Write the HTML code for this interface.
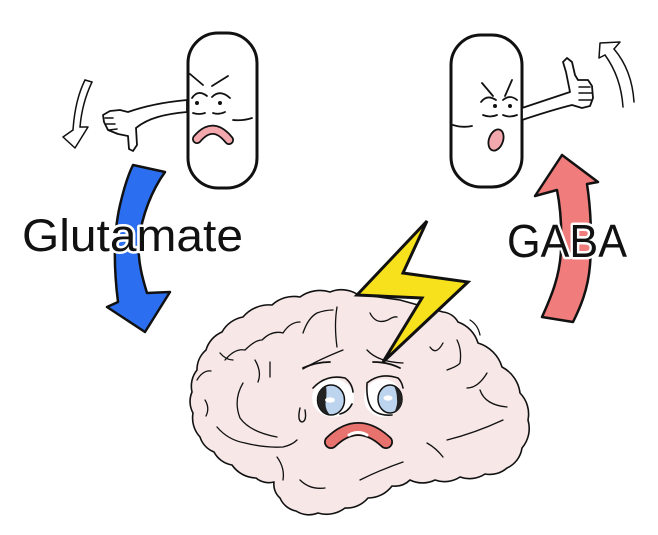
<!DOCTYPE html>
<html>
<head>
<meta charset="utf-8">
<style>
  html,body{margin:0;padding:0;background:#fff;}
  body{width:658px;height:535px;overflow:hidden;}
  svg{display:block;}
  .t{font-family:"Liberation Sans", sans-serif;}
</style>
</head>
<body>
<svg width="658" height="535" viewBox="0 0 658 535" xmlns="http://www.w3.org/2000/svg">
  <rect width="658" height="535" fill="#fff"/>

  <!-- Left pill -->
  <rect x="188" y="33" width="69" height="155" rx="30" ry="30" fill="#fff" stroke="#111" stroke-width="3"/>
  <g fill="none" stroke="#111" stroke-width="1.8" stroke-linecap="round">
    <path d="M190,74 L203,85"/>
    <path d="M212,86 L228,76"/>
    <path d="M192,98 Q198,89 207,96"/>
    <path d="M212,97 Q220,89 230,98"/>
    <path d="M193,113 Q199,115 205,113"/>
    <path d="M213,113 Q219,115 225,112"/>
    <path d="M233,120 Q243,121 252,118"/>
  </g>
  <circle cx="197" cy="103" r="2" fill="#111"/>
  <circle cx="220" cy="103" r="2" fill="#111"/>
  <path d="M197,139 Q213,120 229,140" fill="none" stroke="#111" stroke-width="10" stroke-linecap="round"/>
  <path d="M197,139 Q213,120 229,140" fill="none" stroke="#f2a8ac" stroke-width="6.5" stroke-linecap="round"/>

  <!-- Left arm + thumbs down hand -->
  <path d="M187,100 C165,102 145,106 128,112 L120,110 L110,111 L103,115 L104,122 L108,130 L118,134 L128,136 L129,149 L133,151 L137,145 L136,128 C148,118 165,114 187,112 Z" fill="#fff" stroke="#111" stroke-width="1.8" stroke-linejoin="round"/>
  <g fill="none" stroke="#111" stroke-width="1.5" stroke-linecap="round">
    <path d="M105,118 L113,118"/>
    <path d="M106,124 L115,124"/>
    <path d="M109,130 L117,129"/>
  </g>

  <!-- Left small arrow -->
  <g fill="none" stroke="#111" stroke-width="1.5" stroke-linejoin="round" stroke-linecap="round">
    <path d="M85,80 Q75,100 73,130"/>
    <path d="M92,82 Q82,103 80,127"/>
    <path d="M85,80 L92,82"/>
    <path d="M73,130 L63,137 L75,148 L88,127 L80,127"/>
  </g>

  <!-- Right pill -->
  <rect x="451" y="35" width="71" height="152" rx="30" ry="30" fill="#fff" stroke="#111" stroke-width="3"/>
  <g fill="none" stroke="#111" stroke-width="1.8" stroke-linecap="round">
    <path d="M482,83 L493,96"/>
    <path d="M512,80 L505,96"/>
    <path d="M481,102 Q487,94 496,100"/>
    <path d="M503,100 Q510,94 517,100"/>
    <path d="M483,115 Q490,118 497,115"/>
    <path d="M503,115 Q510,118 517,115"/>
    <path d="M453,125 Q462,128 472,126"/>
  </g>
  <circle cx="495" cy="106" r="2" fill="#111"/>
  <circle cx="510" cy="106" r="2" fill="#111"/>
  <ellipse cx="496" cy="140" rx="7" ry="11" transform="rotate(20 496 140)" fill="#f2a8ac" stroke="#111" stroke-width="1.8"/>

  <!-- Right arm + thumbs up -->
  <path d="M522,108 C540,102 555,97 570,92 L566,72 L563,62 L567,58 L572,62 L575,75 L578,80 L588,80 L592,86 L593,98 L590,106 L582,108 L572,105 C556,109 540,114 522,120 Z" fill="#fff" stroke="#111" stroke-width="1.8" stroke-linejoin="round"/>
  <g fill="none" stroke="#111" stroke-width="1.5" stroke-linecap="round">
    <path d="M579,87 L590,87"/>
    <path d="M579,93 L592,93"/>
    <path d="M579,100 L591,100"/>
  </g>

  <!-- Right small arrow -->
  <g fill="none" stroke="#111" stroke-width="1.5" stroke-linejoin="round" stroke-linecap="round">
    <path d="M605,55 Q621,77 623,107"/>
    <path d="M614,49 Q632,70 634,102"/>
    <path d="M605,55 L599,58 L600,43 L620,42 L614,49"/>
  </g>

  <!-- Blue arrow -->
  <path d="M133,165 L165,172 C152,190 142,215 139,240 C137,260 143,280 147,293 L170,292 L145,332 L107,307 L118,302 C114,270 113,235 120,205 C124,188 128,175 133,165 Z" fill="#2b6ff0" stroke="#111" stroke-width="2.5" stroke-linejoin="round"/>

  <!-- Pink arrow -->
  <path d="M542,317 C552,295 560,275 561,250 C562,225 560,205 557,190 L535,196 L562,155 L598,182 L587,184 C591,210 592,240 590,265 C588,290 580,308 573,322 Z" fill="#f07c7c" stroke="#111" stroke-width="2.5" stroke-linejoin="round"/>

  <!-- Labels -->
  <text class="t" x="22" y="251" font-size="45" textLength="221" lengthAdjust="spacingAndGlyphs" fill="#111" stroke="#fff" stroke-width="5" stroke-linejoin="round" paint-order="stroke">Glutamate</text>
  <text class="t" x="507" y="257" font-size="46" textLength="120" lengthAdjust="spacingAndGlyphs" fill="#111" stroke="#fff" stroke-width="5" stroke-linejoin="round" paint-order="stroke">GABA</text>

  <!-- Brain -->
  <path d="M357,294
    A30,30 0 0 0 330,292
    A34,34 0 0 0 300,297
    A32,32 0 0 0 272,305
    A34,34 0 0 0 243,317
    A30,30 0 0 0 222,332
    A28,28 0 0 0 206,350
    A26,26 0 0 0 197,370
    A26,26 0 0 0 192,392
    A24,24 0 0 0 193,413
    A28,28 0 0 0 200,437
    A24,24 0 0 0 214,452
    A25,25 0 0 0 232,465
    A30,30 0 0 0 256,478
    A20,20 0 0 0 274,482
    A18,18 0 0 0 280,498
    A22,22 0 0 0 296,511
    A24,24 0 0 0 318,513
    A30,30 0 0 0 345,508
    A28,28 0 0 0 368,498
    A30,30 0 0 0 392,486
    A22,22 0 0 0 410,480
    A28,28 0 0 0 435,480
    A28,28 0 0 0 460,477
    A28,28 0 0 0 485,474
    A26,26 0 0 0 507,468
    A26,26 0 0 0 522,448
    A30,30 0 0 0 528,420
    A30,30 0 0 0 520,393
    A34,34 0 0 0 502,367
    A36,36 0 0 0 478,343
    A32,32 0 0 0 458,322
    A20,20 0 0 0 443,312
    L400,300 Z" fill="#f7e7e7" stroke="#111" stroke-width="1.6" stroke-linejoin="round"/>

  <!-- Brain folds -->
  <g fill="none" stroke="#111" stroke-width="1.3" stroke-linecap="round" stroke-linejoin="round">
    <path d="M225,360 Q235,348 245,350 Q255,340 262,340 Q272,330 283,333 Q290,322 300,322"/>
    <path d="M270,362 L270,377"/>
    <path d="M243,383 Q233,400 240,418 Q250,432 277,437"/>
    <path d="M217,427 Q228,440 245,443 Q265,448 283,447 Q292,445 297,440"/>
    <path d="M303,333 Q308,318 317,313 Q325,310 333,310"/>
    <path d="M337,307 Q334,325 337,347"/>
    <path d="M197,380 Q203,370 211,371"/>
    <path d="M220,353 Q226,360 233,360"/>
    <path d="M205,400 Q210,408 206,416"/>
    <path d="M303,369 Q318,360 343,350"/>
    <path d="M367,350 Q378,362 403,363"/>
    <path d="M370,313 Q376,325 388,320 Q394,316 397,317"/>
    <path d="M430,347 Q436,356 443,343"/>
    <path d="M447,370 Q458,366 460,363 Q462,350 457,340"/>
    <path d="M467,388 Q478,388 487,373"/>
    <path d="M480,390 Q485,405 507,407"/>
    <path d="M447,440 Q475,433 503,420"/>
    <path d="M427,443 Q436,448 443,457"/>
    <path d="M360,480 Q380,470 403,462"/>
    <path d="M277,457 Q285,468 283,480"/>
    <path d="M300,480 Q310,490 325,488"/>
    <path d="M255,360 Q262,372 258,382"/>
    <path d="M470,320 Q478,325 480,335"/>
  </g>

  <!-- Brain eyebrows -->
  <g fill="none" stroke="#111" stroke-width="1.8" stroke-linecap="round">
    <path d="M303,368 Q316,362 330,362"/>
    <path d="M373,362 Q388,362 400,368"/>
  </g>

  <!-- Brain eyes -->
  <ellipse cx="333" cy="398" rx="21" ry="19" fill="#fff"/>
  <ellipse cx="383" cy="398" rx="19" ry="19" fill="#fff"/>
  <ellipse cx="331" cy="400" rx="13.5" ry="15" fill="#bdd4ee" stroke="#111" stroke-width="1.5"/>
  <path d="M326,386 Q316,392 318,402 Q320,413 330,415 Q324,408 326,400 Q327,392 326,386 Z" fill="#222"/>
  <ellipse cx="390" cy="399" rx="12" ry="14" fill="#bdd4ee" stroke="#111" stroke-width="1.5"/>
  <path d="M394,386 Q403,392 402,400 Q401,410 394,413 Q398,405 397,399 Q397,392 394,386 Z" fill="#222"/>
  <ellipse cx="330" cy="400" rx="5" ry="2.6" fill="#fff"/>
  <ellipse cx="388" cy="398" rx="4.5" ry="2.6" fill="#fff"/>
  <g fill="none" stroke="#111" stroke-width="1.6" stroke-linecap="round">
    <path d="M313,388 Q326,374 345,378 Q352,383 353,392"/>
    <path d="M367,383 Q380,372 398,378 Q402,382 403,388"/>
    <path d="M367,384 Q366,402 373,410 Q380,416 392,415"/>
    <path d="M340,414 Q348,412 352,404"/>
  </g>

  <!-- Sweat drop -->
  <path d="M300,408 Q297,421 302,422 Q307,421 305,410" fill="none" stroke="#111" stroke-width="1.4" stroke-linecap="round"/>

  <!-- Brain mouth -->
  <path d="M331,442 Q358,416 386,442" fill="none" stroke="#111" stroke-width="14" stroke-linecap="round"/>
  <path d="M331,442 Q358,416 386,442" fill="none" stroke="#e8726e" stroke-width="10.5" stroke-linecap="round"/>
  <path d="M349,435 Q358,430 367,435" fill="none" stroke="#fff" stroke-width="3" stroke-linecap="round"/>

  <!-- Lightning -->
  <polygon points="427,221 403,273 468,282 383,362 422,298 357,295" fill="#f7e01c" stroke="#111" stroke-width="3" stroke-linejoin="miter"/>
</svg>
</body>
</html>
